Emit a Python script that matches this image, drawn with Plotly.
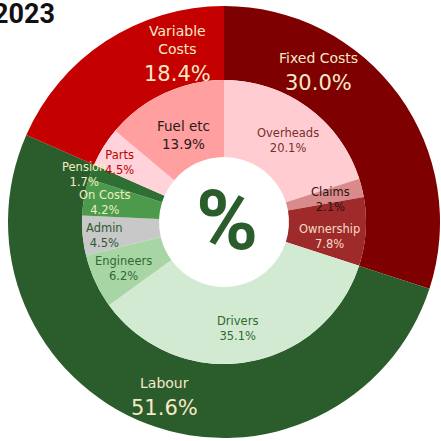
import math
import plotly.graph_objects as go

# ---------------- data ----------------
title_text = "2023"
center_symbol = "%"

groups = ["Fixed Costs", "Labour", "Variable Costs"]
group_values = [30.0, 51.6, 18.4]

items = ["Overheads", "Claims", "Ownership", "Drivers", "Engineers",
         "Admin", "On Costs", "Pension", "Parts", "Fuel etc"]
item_values = [20.1, 2.1, 7.8, 35.1, 6.2, 4.5, 4.2, 1.7, 4.5, 13.9]

# ---------------- style ----------------
W = H = 441
CX, CY = 224, 222          # pie centre in pixels (from top-left)
R_OUT, R_IN, R_HOLE = 216, 142, 65

group_colors = {"Fixed Costs": "#7E0000", "Labour": "#2B5C2B", "Variable Costs": "#C50000"}
item_colors = {"Overheads": "#FFCCD1", "Claims": "#D98A8A", "Ownership": "#9E2A2A",
               "Drivers": "#D3EAD2", "Engineers": "#A7D5A4", "Admin": "#C8C8C8",
               "On Costs": "#4C9A4C", "Pension": "#2F6F33", "Parts": "#FFD3D9",
               "Fuel etc": "#FF9F9F"}

group_display = {"Fixed Costs": "Fixed Costs", "Labour": "Labour", "Variable Costs": "Variable<br>Costs"}
group_text_color = "#F8E8C6"
# (angle offset deg, radius) for outer labels
group_label_pos = {"Fixed Costs": (-22, 178), "Labour": (-2, 184), "Variable Costs": (17, 167)}

item_text_color = {"Overheads": "#7A2E2E", "Claims": "#2A1414", "Ownership": "#F6DCC8",
                   "Drivers": "#2E6B30", "Engineers": "#2E6B30", "Admin": "#2E5A2E",
                   "On Costs": "#EEF0C2", "Pension": "#EEF0C2", "Parts": "#C00000",
                   "Fuel etc": "#2A1A1A"}
item_font_size = {"Fuel etc": 13.5}
# (angle offset deg, radius) for inner labels
item_label_pos = {"Overheads": (2, 104), "Claims": (2, 109), "Ownership": (4, 107),
                  "Drivers": (2, 107), "Engineers": (0, 111), "Admin": (-1, 120),
                  "On Costs": (-1, 121), "Pension": (-2, 148), "Parts": (-2, 120),
                  "Fuel etc": (0, 96)}

FONT = "DejaVu Sans"


def dom(cpx, r, size, flip=False):
    c = size - cpx if flip else cpx
    return [(c - r) / size, (c + r) / size]


def to_paper(angle_deg, r):
    a = math.radians(angle_deg)
    x = CX + r * math.sin(a)
    y = CY - r * math.cos(a)
    return x / W, 1 - y / H


def mid_angles(values):
    tot = sum(values)
    out, acc = [], 0.0
    for v in values:
        out.append((acc + v / 2) / tot * 360)
        acc += v
    return out


fig = go.Figure()
fig.add_trace(go.Pie(
    labels=groups, values=group_values, sort=False, direction="clockwise", rotation=0,
    hole=R_IN / R_OUT,
    domain=dict(x=dom(CX, R_OUT, W), y=dom(CY, R_OUT, H, flip=True)),
    marker=dict(colors=[group_colors[g] for g in groups], line=dict(width=0)),
    textinfo="none", showlegend=False, hoverinfo="label+value",
))
fig.add_trace(go.Pie(
    labels=items, values=item_values, sort=False, direction="clockwise", rotation=0,
    hole=R_HOLE / R_IN,
    domain=dict(x=dom(CX, R_IN, W), y=dom(CY, R_IN, H, flip=True)),
    marker=dict(colors=[item_colors[i] for i in items], line=dict(width=0)),
    textinfo="none", showlegend=False, hoverinfo="label+value",
))

annotations = []
for g, v, a in zip(groups, group_values, mid_angles(group_values)):
    da, r = group_label_pos[g]
    x, y = to_paper(a + da, r)
    annotations.append(dict(x=x, y=y, xref="paper", yref="paper", showarrow=False,
                            text=group_display[g], xanchor="center", yanchor="bottom",
                            yshift=3,
                            font=dict(family=FONT, size=14, color=group_text_color)))
    annotations.append(dict(x=x, y=y, xref="paper", yref="paper", showarrow=False,
                            text=f"{v:.1f}%", xanchor="center", yanchor="top", yshift=2,
                            font=dict(family=FONT, size=21, color=group_text_color)))

for it, v, a in zip(items, item_values, mid_angles(item_values)):
    da, r = item_label_pos[it]
    x, y = to_paper(a + da, r)
    annotations.append(dict(x=x, y=y, xref="paper", yref="paper", showarrow=False,
                            text=f"{it}<br>{v:.1f}%", xanchor="center", yanchor="middle",
                            font=dict(family=FONT, size=item_font_size.get(it, 11.5),
                                      color=item_text_color[it])))

# centre symbol
annotations.append(dict(x=CX / W, y=1 - CY / H, xref="paper", yref="paper", showarrow=False,
                        text=f"<b>{center_symbol}</b>", xanchor="center", yanchor="middle",
                        xshift=3, yshift=2,
                        font=dict(family="Roboto", size=84, color="#2B5C2B")))
# title
annotations.append(dict(x=0, y=1, xref="paper", yref="paper", showarrow=False,
                        text=f"<b>{title_text}</b>", xanchor="left", yanchor="top",
                        xshift=-9, yshift=4,
                        font=dict(family="Roboto", size=27, color="#111111")))

fig.update_layout(
    width=W, height=H, margin=dict(l=0, r=0, t=0, b=0),
    paper_bgcolor="white", plot_bgcolor="white",
    annotations=annotations,
)

fig.write_html("out.html", config={"displayModeBar": False},
               post_script="document.body.style.margin='0px';document.body.style.overflow='hidden';")
